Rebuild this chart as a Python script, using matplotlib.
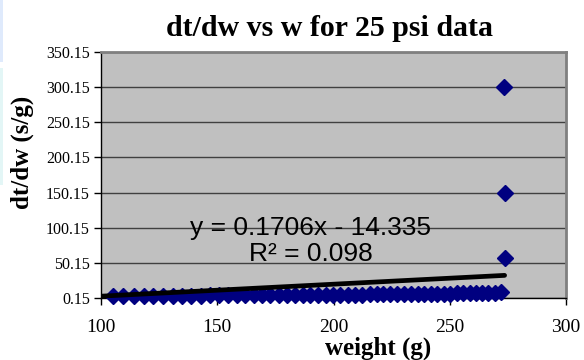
import matplotlib
matplotlib.use("Agg")
import matplotlib.pyplot as plt
import numpy as np
from matplotlib.patches import Rectangle

# ---- data ----
weight = [105.2, 109.6, 114.0, 118.3, 122.5, 126.7, 130.8, 134.9, 138.9, 142.9,
          146.8, 150.7, 154.5, 158.3, 162.0, 165.7, 169.3, 172.9, 176.4, 179.9,
          183.3, 186.7, 190.0, 193.3, 196.6, 199.8, 203.0, 206.2, 209.3, 212.4,
          215.5, 218.5, 221.5, 224.5, 227.5, 230.4, 233.3, 236.2, 239.1, 241.9,
          244.7, 247.5, 250.3, 253.1, 255.8, 258.5, 261.2, 263.9, 266.6, 269.3,
          272.0, 273.5, 273.6, 273.65]
dtdw = [3.2, 3.3, 3.4, 3.4, 3.5, 3.5, 3.6, 3.6, 3.7, 3.7,
        3.8, 3.9, 3.9, 4.0, 4.0, 4.1, 4.2, 4.2, 4.3, 4.4,
        4.5, 4.5, 4.6, 4.7, 4.7, 4.8, 4.9, 5.0, 5.0, 5.1,
        5.2, 5.3, 5.4, 5.5, 5.6, 5.7, 5.8, 5.9, 6.0, 6.1,
        6.3, 6.4, 6.5, 6.7, 6.8, 7.0, 7.1, 7.3, 7.5, 7.7,
        8.0, 300.0, 150.0, 57.0]
trend_slope = 0.1706
trend_intercept = -14.335
trend_x = [100.5, 273.6]
yticks = [0.15, 50.15, 100.15, 150.15, 200.15, 250.15, 300.15, 350.15]
xticks = [100, 150, 200, 250, 300]
title = "dt/dw vs w for 25 psi data"
xlabel = "weight (g)"
ylabel = "dt/dw (s/g)"
eq_text = "y = 0.1706x - 14.335"
r2_text = "R² = 0.098"

serif = ["Liberation Serif", "DejaVu Serif"]
sans = ["Liberation Sans", "DejaVu Sans"]

fig = plt.figure(figsize=(5.84, 3.60), dpi=100)
fig.patch.set_facecolor("white")
ax = fig.add_axes([101/584, 62/360, 465/584, 246/360])
ax.set_facecolor("#C0C0C0")

ax.set_xlim(100, 300)
ax.set_ylim(0.15, 350.15)
ax.set_yticks(yticks)
ax.set_yticklabels([f"{v:.2f}" for v in yticks], family=serif, fontsize=11.5)
ax.set_xticks(xticks)
ax.set_xticklabels([str(v) for v in xticks], family=serif, fontsize=14)
ax.tick_params(axis="both", direction="out", length=5, width=1, color="black", pad=3)
ax.tick_params(axis="x", pad=10)

ax.grid(axis="y", color="#404040", linewidth=1.0)
ax.set_axisbelow(True)

for s in ["top", "right"]:
    ax.spines[s].set_color("#808080")
    ax.spines[s].set_linewidth(2.0)
for s in ["left", "bottom"]:
    ax.spines[s].set_color("black")
    ax.spines[s].set_linewidth(1.0)

# trendline
tx = np.array(trend_x)
ax.plot(tx, trend_slope * tx + trend_intercept, color="black", linewidth=3.4,
        solid_capstyle="round", zorder=4)

# data
ax.plot(weight, dtdw, linestyle="none", marker="D", markersize=8,
        color="#000080", markeredgecolor="#000080", clip_on=False, zorder=3)

ax.text(190.3, 100.0, eq_text, family=sans, fontsize=19, ha="center", va="center",
        color="black", zorder=5)
ax.text(190.3, 62.5, r2_text, family=sans, fontsize=19, ha="center", va="center",
        color="black", zorder=5)

fig.text(330/584, 1 - 28/360, title, family=serif, fontsize=21.5, fontweight="bold",
         ha="center", va="center")
fig.text(378/584, 1 - 348/360, xlabel, family=serif, fontsize=18, fontweight="bold",
         ha="center", va="center")
fig.text(22/584, 1 - 152/360, ylabel, family=serif, fontsize=18, fontweight="bold",
         ha="center", va="center", rotation=90)

# faint left-edge strips from the screenshot
fig.patches.append(Rectangle((0, 1 - 62/360), 3/584, 62/360, transform=fig.transFigure,
                             facecolor="#dfeafc", edgecolor="none"))
fig.patches.append(Rectangle((0, 1 - 185/360), 3/584, 117/360, transform=fig.transFigure,
                             facecolor="#e3f6f6", edgecolor="none"))

fig.savefig("out.png", dpi=100)
